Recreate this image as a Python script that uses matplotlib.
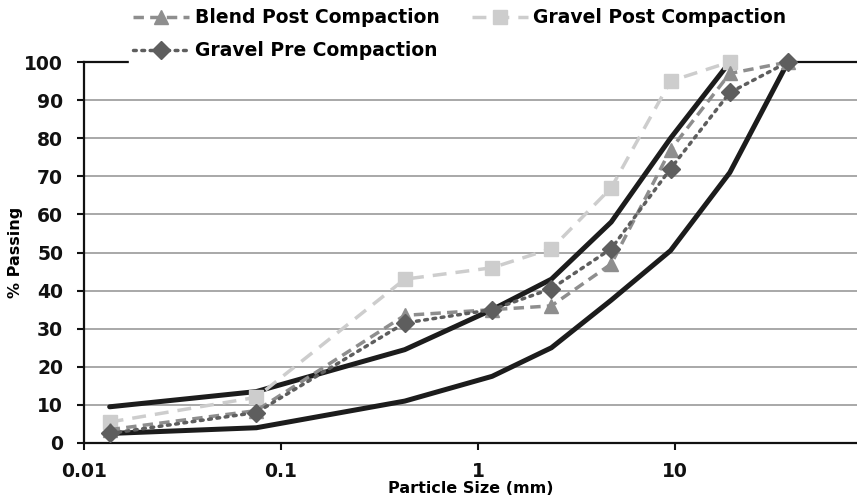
import matplotlib.pyplot as plt

# sieve sizes (mm) and % passing
sizes_mm = [0.0135, 0.075, 0.425, 1.18, 2.36, 4.75, 9.5, 19.0, 37.5]
blend_post = [3.5, 8.5, 33.5, 35, 36, 47, 77, 97, 100]
gravel_post = [5.5, 12, 43, 46, 51, 67, 95, 100]
gravel_pre = [2.5, 8, 31.5, 35, 40.5, 51, 72, 92, 100]
upper_limit = [9.5, 13.5, 24.5, 35, 43, 58, 80, 100]
lower_limit = [2.5, 4, 11, 17.5, 25, 37.5, 50.5, 71, 100]

plt.rcParams['font.family'] = ['DejaVu Sans']

fig = plt.figure(figsize=(8.57, 5.03), dpi=100)
ax = fig.add_axes([0.098, 0.1193, 0.902, 0.7574])

# gradation envelope (solid black)
ax.plot(sizes_mm[:len(upper_limit)], upper_limit, color="#1c1c1c", lw=3.6,
        solid_capstyle="round", solid_joinstyle="round", label="_nolegend_", zorder=3,
        clip_on=False)
ax.plot(sizes_mm, lower_limit, color="#1c1c1c", lw=3.6,
        solid_capstyle="round", solid_joinstyle="round", label="_nolegend_", zorder=3,
        clip_on=False)

l_blend, = ax.plot(sizes_mm, blend_post, color="#8e8e8e", lw=2.5, ls=(0, (3, 1.8)),
                   marker="^", ms=10.5, mec="#8e8e8e", label="Blend Post Compaction",
                   zorder=4, clip_on=False)
l_gpost, = ax.plot(sizes_mm[:len(gravel_post)], gravel_post, color="#cdcdcd", lw=2.5,
                   ls=(0, (4, 2.6)), marker="s", ms=10.5, mec="#cdcdcd",
                   label="Gravel Post Compaction", zorder=3.5, clip_on=False)
l_gpre, = ax.plot(sizes_mm, gravel_pre, color="#5e5e5e", lw=2.5, ls=(0, (0.8, 1.6)),
                  dash_capstyle="round", marker="D", ms=9, mec="#5e5e5e",
                  label="Gravel Pre Compaction", zorder=5, clip_on=False)

ax.set_xscale("log")
ax.set_xlim(0.01, 84)
ax.set_ylim(0, 100)
ax.set_yticks(range(0, 101, 10))
ax.set_xticks([0.01, 0.1, 1, 10])
ax.set_xticklabels(["0.01", "0.1", "1", "10"])
ax.minorticks_off()
ax.yaxis.grid(True, color="#9a9a9a", lw=1.2)
ax.set_axisbelow(True)

for side in ["left", "bottom", "top"]:
    ax.spines[side].set_color("#111111")
    ax.spines[side].set_linewidth(1.6)
ax.spines["right"].set_visible(False)

ax.tick_params(axis="both", length=5, width=1.5, color="#111111",
               labelsize=13.5, labelcolor="#111111")
ax.tick_params(axis="y", pad=10)
ax.tick_params(axis="x", pad=9)
for lab in ax.get_xticklabels() + ax.get_yticklabels():
    lab.set_fontweight("bold")

ax.set_xlabel("Particle Size (mm)", fontsize=11.5, fontweight="bold", labelpad=0)
ax.set_ylabel("% Passing", fontsize=11.5, fontweight="bold", labelpad=1)

# legend sits over the top border but under the data lines
leg = ax.legend(handles=[l_blend, l_gpre, l_gpost], ncol=2, loc="upper left",
                bbox_to_anchor=(0.14, 1.01), bbox_transform=fig.transFigure,
                frameon=True, facecolor="white", edgecolor="white", framealpha=1,
                fancybox=False, prop={"size": 13.5, "weight": "bold"},
                handlelength=3.0, handletextpad=0.3, columnspacing=1.7,
                labelspacing=0.75, borderpad=0.2)
leg.set_zorder(2.8)

plt.savefig("out.png", dpi=100)
